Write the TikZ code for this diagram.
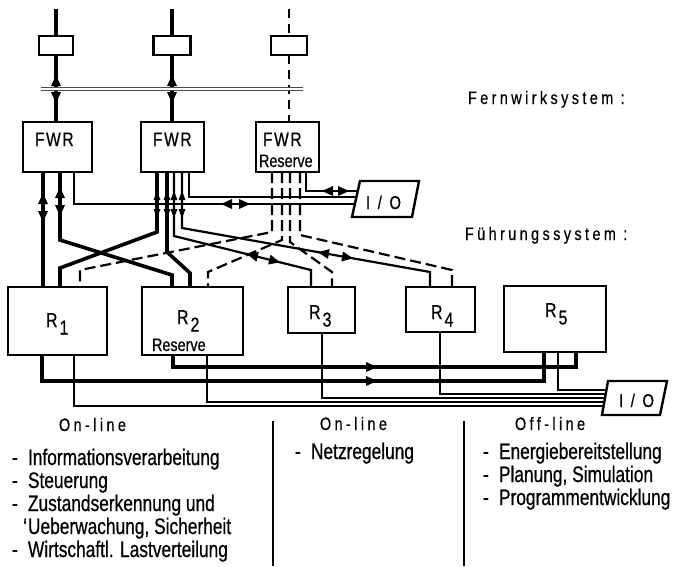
\documentclass[tikz,border=0pt]{standalone}
\usepackage{fontspec}
\setmainfont{Liberation Sans}[FakeStretch=0.8,FakeBold=0.5]
\newfontfamily\listfnt{Liberation Sans}[FakeStretch=0.77,FakeBold=0.6]
\newfontfamily\spacedfont{Liberation Sans}[FakeStretch=0.8,FakeBold=0.5,LetterSpace=19]
\newfontfamily\fwrfont{Liberation Sans}[FakeStretch=0.8,FakeBold=0.6,LetterSpace=8]
\newcommand\Rlabel[1]{R\hspace{2pt}\raisebox{-7.5pt}{#1}}
\newcommand\listentry[1]{\makebox[16pt][l]{-}#1}

\tikzset{
  box/.style={draw, line width=2.8pt, inner sep=0pt, outer sep=0pt},
  smallbox/.style={draw, line width=2.2pt, inner sep=0pt, outer sep=0pt, minimum height=19pt},
  heavy/.style={line width=3.6pt},
  medium/.style={line width=2.2pt},
  fine/.style={line width=1.3pt},
  dashline/.style={line width=2.2pt, dash pattern=on 11pt off 5pt},
  txt/.style={inner sep=0pt, outer sep=0pt, anchor=base west},
  listfont/.style={txt, font=\listfnt\fontsize{22.5}{26}\selectfont},
  headfont/.style={txt, font=\spacedfont\fontsize{18}{21}\selectfont},
  iotxt/.style={txt, font=\spacedfont\fontsize{18.5}{21}\selectfont},
  fwrtxt/.style={txt, font=\fwrfont\fontsize{19.5}{22}\selectfont},
  restxt/.style={txt, font=\fontsize{18}{21}\selectfont},
  rtxt/.style={txt, font=\fontsize{20}{23}\selectfont},
  arrowtip/.pic={\fill (0,0) -- (-11,5) -- (-11,-5) -- cycle;},
  smalltip/.pic={\fill (0,0) -- (-9,3.5) -- (-9,-3.5) -- cycle;},
}

\begin{document}
\begin{tikzpicture}[x=1pt,y=-1pt]
\useasboundingbox (0,0) rectangle (675,566);

% ---------- Fernwirk level ----------
\coordinate (top1) at (56,9);
\coordinate (top2) at (172,9);
\coordinate (top3) at (289,9);
\node[smallbox, minimum width=34pt] (b1) at (56,45.5) {};
\node[smallbox, minimum width=37pt] (b2) at (172,45.5) {};
\node[smallbox, minimum width=36pt] (b3) at (289,45.5) {};

\node[box, minimum width=69pt, minimum height=50pt] (fwr1) at (57.5,147) {};
\node[box, minimum width=63pt, minimum height=50pt] (fwr2) at (172.5,147) {};
\node[box, minimum width=63pt, minimum height=50pt] (fwr3) at (287.5,147) {};
\node[fwrtxt] (fwr1lab) at (35,146) {FWR};
\node[fwrtxt] (fwr2lab) at (153,146) {FWR};
\node[fwrtxt] (fwr3lab) at (263,146) {FWR};
\node[restxt] (fwr3res) at (259,167) {Reserve};

% vertical links through the upper boxes
\draw[heavy] (top1) -- (b1.north);
\draw[heavy] (top2) -- (b2.north);
\draw[medium, dash pattern=on 9pt off 6pt] (top3) -- (b3.north);
\draw[heavy] (b1.south) -- (b1.south |- fwr1.north);
\draw[heavy] (b2.south) -- (b2.south |- fwr2.north);
\draw[medium, dash pattern=on 9pt off 6pt] (b3.south) -- (b3.south |- fwr3.north);

% double bus line
\coordinate (busL) at (41,89);
\coordinate (busR) at (303,89);
\draw[line width=1.4pt, double distance=1.6pt, draw=black!70] (busL) -- (busR);

\pic[rotate=90] at (56,75) {arrowtip};
\pic[rotate=-90] at (56,103) {arrowtip};
\pic[rotate=90] at (172,75) {arrowtip};
\pic[rotate=-90] at (172,103) {arrowtip};

% ---------- Fuehrung level ----------
\node[box, minimum width=99pt, minimum height=68pt] (r1) at (57.5,321) {};
\node[box, minimum width=101pt, minimum height=68pt] (r2) at (192.5,321) {};
\node[box, minimum width=67pt, minimum height=46pt] (r3) at (321.5,310) {};
\node[box, minimum width=69pt, minimum height=45pt] (r4) at (440.5,309.5) {};
\node[box, minimum width=102pt, minimum height=66pt] (r5) at (555,319) {};
\node[rtxt] (r1lab) at (46,327) {\Rlabel{1}};
\node[rtxt] (r2lab) at (177,324) {\Rlabel{2}};
\node[restxt] (r2res) at (152,351) {Reserve};
\node[rtxt] (r3lab) at (309,319) {\Rlabel{3}};
\node[rtxt] (r4lab) at (431,319) {\Rlabel{4}};
\node[rtxt] (r5lab) at (545,317) {\Rlabel{5}};

% I/O units
\coordinate (ioAtl) at (360,181);
\coordinate (ioAtr) at (419,181);
\coordinate (ioAbr) at (412,217);
\coordinate (ioAbl) at (352,217);
\draw[line width=2.4pt, line join=miter] (ioAtl) -- (ioAtr) -- (ioAbr) -- (ioAbl) -- cycle;
\node[iotxt] (ioA) at (366,209) {I / O};
\coordinate (ioAin1) at (357.8,191);
\coordinate (ioAin2) at (356.4,197);
\coordinate (ioAin3) at (354.9,204);

\coordinate (ioBtl) at (608,381);
\coordinate (ioBtr) at (667,381);
\coordinate (ioBbr) at (660,415);
\coordinate (ioBbl) at (602,415);
\draw[line width=2.4pt, line join=miter] (ioBtl) -- (ioBtr) -- (ioBbr) -- (ioBbl) -- cycle;
\node[iotxt] (ioB) at (619,407) {I / O};
\coordinate (ioBin1) at (606.4,390);
\coordinate (ioBin2) at (605.7,394);
\coordinate (ioBin3) at (605.0,398);
\coordinate (ioBin4) at (604.3,402);
\coordinate (ioBin5) at (603.6,406);

% links FWR 1
\draw[heavy] ([xshift=20pt]fwr1.south west) -- ([xshift=35pt]r1.north west);
\draw[heavy] ([xshift=37pt]fwr1.south west) -- (60,240) -- (172,275) -- ([xshift=30pt]r2.north west);
\draw[fine] ([xshift=51pt]fwr1.south west) -- (74,204) -- (ioAin3);

% links FWR 2
\draw[heavy] ([xshift=16pt]fwr2.south west) -- (157,232) -- (60,268) -- ([xshift=52pt]r1.north west);
\draw[heavy] ([xshift=26pt]fwr2.south west) -- (167,252) -- (190,273) -- ([xshift=48pt]r2.north west);
\draw[medium] ([xshift=33pt]fwr2.south west) -- (174,236) -- (311,270) -- ([xshift=23pt]r3.north west);
\draw[medium] ([xshift=41pt]fwr2.south west) -- (182,228) -- (430,272) -- ([xshift=24pt]r4.north west);
\draw[fine] ([xshift=48pt]fwr2.south west) -- (189,197) -- (ioAin2);

% links FWR Reserve
\draw[dashline] ([xshift=16pt]fwr3.south west) -- (272,232) -- (80,270) -- ([xshift=72pt]r1.north west);
\draw[dashline] ([xshift=26pt]fwr3.south west) -- (282,240) -- (208,272) -- ([xshift=66pt]r2.north west);
\draw[dashline] ([xshift=34pt]fwr3.south west) -- (290,242) -- (332,272) -- ([xshift=44pt]r3.north west);
\draw[dashline] ([xshift=44pt]fwr3.south west) -- (300,235) -- (452,270) -- ([xshift=46pt]r4.north west);
\draw[fine] ([xshift=50pt]fwr3.south west) -- (306,191) -- (ioAin1);

% arrow heads below the FWR units
\pic[rotate=90] at (43,193) {arrowtip};
\pic[rotate=-90] at (43,222) {arrowtip};
\pic[rotate=90] at (60,187) {arrowtip};
\pic[rotate=-90] at (60,216) {arrowtip};
\foreach \x in {157,167,174,182} {
  \pic[rotate=90] at (\x,191) {smalltip};
  \pic[rotate=-90] at (\x,218) {smalltip};
}
\pic[rotate=180] at (221,204) {arrowtip};
\pic at (250,204) {arrowtip};
\pic[rotate=180] at (322,191) {arrowtip};
\pic at (349,191) {arrowtip};
\pic[rotate=165.9] at (247,254.1) {arrowtip};
\pic[rotate=-14.1] at (280,262.3) {arrowtip};
\pic[rotate=169.9] at (318,252.1) {arrowtip};
\pic[rotate=-10.1] at (353,258.4) {arrowtip};

% links below the computers
\draw[heavy] ([xshift=34pt]r1.south west) -- (42,381) -- (544,381) -- ([xshift=40pt]r5.south west);
\draw[heavy] ([xshift=31pt]r2.south west) -- (173,367) -- (576,367) -- ([xshift=72pt]r5.south west);
\pic at (377,367) {arrowtip};
\pic at (377,381) {arrowtip};
\draw[fine] ([xshift=66pt]r1.south west) -- (74,406) -- (ioBin5);
\draw[fine] ([xshift=65pt]r2.south west) -- (207,402) -- (ioBin4);
\draw[fine] ([xshift=34pt]r3.south west) -- (322,398) -- (ioBin3);
\draw[fine] ([xshift=34pt]r4.south west) -- (440,394) -- (ioBin2);
\draw[fine] ([xshift=54pt]r5.south west) -- (558,390) -- (ioBin1);

% ---------- headings ----------
\node[headfont] (hfern) at (468,104) {Fernwirksystem :};
\node[headfont] (hfuehr) at (465,240) {Führungssystem :};

% ---------- columns ----------
\coordinate (div1a) at (273,421);
\coordinate (div1b) at (273,566);
\coordinate (div2a) at (464,421);
\coordinate (div2b) at (464,566);
\draw[line width=1.1pt] (div1a) -- (div1b);
\draw[line width=1.1pt] (div2a) -- (div2b);

\node[headfont] (c1h) at (59,431) {On-line};
\node[headfont] (c2h) at (320,430) {On-line};
\node[headfont] (c3h) at (515,430) {Off-line};

\node[listfont] (c1a) at (12,465) {\listentry{Informationsverarbeitung}};
\node[listfont] (c1b) at (12,488) {\listentry{Steuerung}};
\node[listfont] (c1c) at (12,511) {\listentry{Zustandserkennung und}};
\node[listfont] (c1d) at (12,534) {\makebox[16pt][r]{‘\hspace{1pt}}Ueberwachung, Sicherheit};
\node[listfont] (c1e) at (12,557) {\listentry{Wirtschaftl. Lastverteilung}};

\node[listfont] (c2a) at (295,459) {\listentry{Netzregelung}};

\node[listfont] (c3a) at (483,459) {\listentry{Energiebereitstellung}};
\node[listfont] (c3b) at (483,482) {\listentry{Planung, Simulation}};
\node[listfont] (c3c) at (483,505) {\listentry{Programmentwicklung}};
\end{tikzpicture}
\end{document}
